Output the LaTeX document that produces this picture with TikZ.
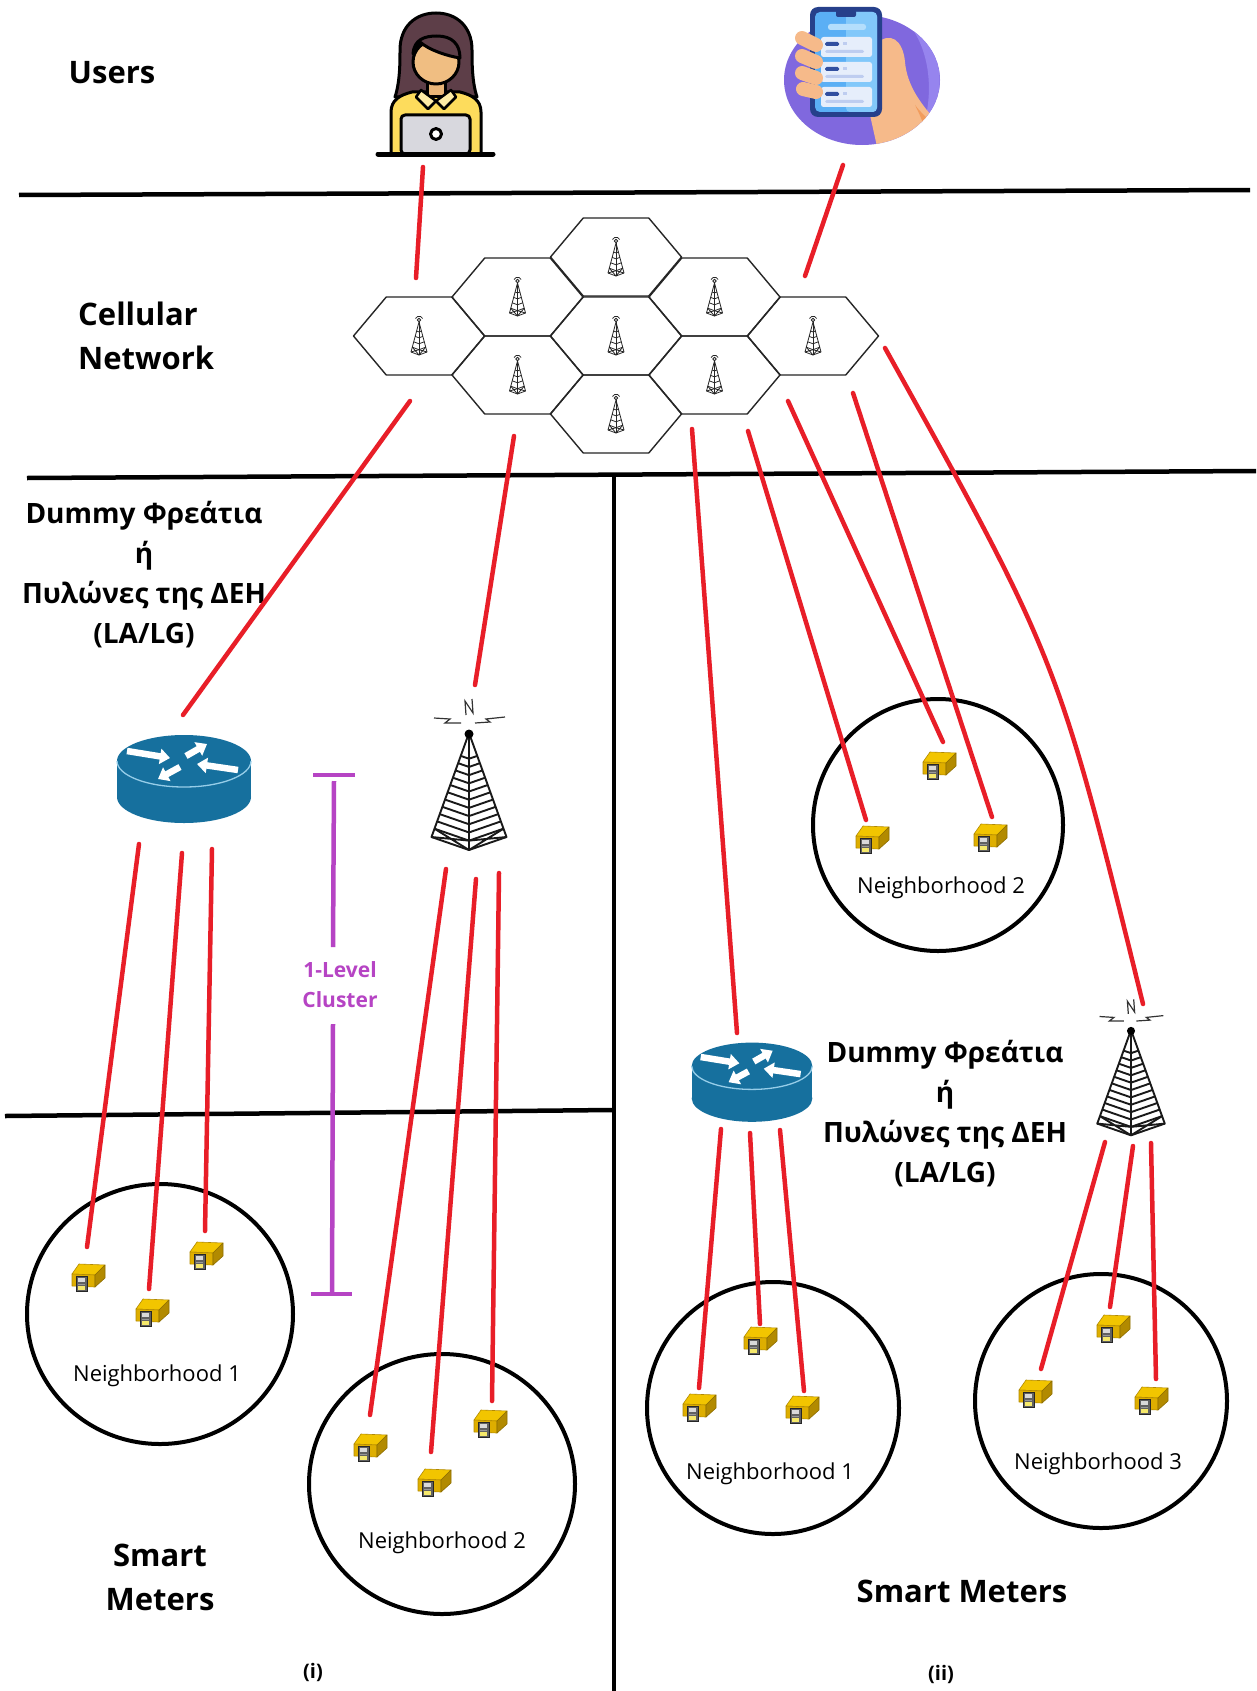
\documentclass[tikz,border=0pt]{standalone}
\usepackage{fontspec}
\setmainfont{Open Sans}
\usetikzlibrary{arrows.meta}

\definecolor{linkred}{RGB}{232,30,40}
\definecolor{clusterpurple}{RGB}{182,68,196}
\definecolor{routerblue}{RGB}{22,112,158}
\definecolor{routerrim}{RGB}{150,205,232}
\definecolor{meterlight}{RGB}{242,197,0}
\definecolor{meterfront}{RGB}{222,174,0}
\definecolor{meterside}{RGB}{178,138,0}
\definecolor{meterlabel}{RGB}{246,233,107}
\definecolor{hair}{RGB}{93,62,72}
\definecolor{skin}{RGB}{240,190,130}
\definecolor{shirt}{RGB}{253,220,92}
\definecolor{laptop}{RGB}{216,216,222}
\definecolor{discpurple}{RGB}{128,104,222}
\definecolor{disclight}{RGB}{150,132,238}
\definecolor{handskin}{RGB}{246,186,138}
\definecolor{handshade}{RGB}{242,156,92}
\definecolor{phonenavy}{RGB}{38,64,139}
\definecolor{screenblue}{RGB}{90,175,245}
\definecolor{screenlight}{RGB}{130,200,250}
\definecolor{cardwhite}{RGB}{230,238,251}
\definecolor{cardbar}{RGB}{50,80,160}
\definecolor{cardline}{RGB}{190,205,240}

\tikzset{
  link/.style={draw=linkred, line width=4.5, line cap=round},
  divider/.style={draw=black, line width=4.5},
  hood/.style={draw=black, line width=4},
  cluster/.style={draw=clusterpurple, line width=4.5},
  hexline/.style={draw=black!85, line width=1.4, line join=round},
  headtext/.style={font=\bfseries\fontsize{31}{44}\selectfont, inner sep=0},
  greektext/.style={font=\bfseries\fontsize{28}{40}\selectfont, align=center, inner sep=0},
  hoodtext/.style={font=\fontsize{22}{26}\selectfont, inner sep=0},
  parttext/.style={font=\bfseries\fontsize{20}{24}\selectfont, inner sep=0},
  clustertext/.style={font=\bfseries\fontsize{21}{30}\selectfont, text=clusterpurple, align=center, inner sep=0},
  % smart meter: yellow box with a grey meter on its front
  meter/.pic={
    \path[fill=meterlight, draw=meterside, line width=0.6, line join=round]
      (-16,-3) -- (-9,-13) -- (17,-12) -- (7,-2) -- cycle;
    \path[fill=meterfront, draw=meterside, line width=0.6, line join=round]
      (-16,-3) -- (7,-2) -- (7,10) -- (-16,9) -- cycle;
    \path[fill=meterside, draw=meterside!80!black, line width=0.6, line join=round]
      (7,-2) -- (17,-12) -- (17,1) -- (7,10) -- cycle;
    \path[fill=black!62, draw=black!85, line width=0.7] (-12,-1) rectangle (-1,14);
    \path[fill=black!15] (-10,1) rectangle (-3,5);
    \path[fill=black!40] (-10,6.5) rectangle (-3,7.5);
    \path[fill=meterlabel] (-10,9) rectangle (-3,12.5);
  },
  % small lattice mast inside a cell
  celltower/.pic={
    \begin{scope}[draw=black!85, line width=0.8, line join=round]
      \draw (-8,16) -- (0,-14) -- (8,16) -- (0,19) -- cycle;
      \draw (0,-14) -- (0,19);
      \foreach \t in {0.3,0.48,0.66,0.84} {
        \draw ({-8*\t},{-14+30*\t}) -- (0,{-14+33*\t}) -- ({8*\t},{-14+30*\t});
      }
      \draw (-6.72,11.2) -- (0,19) (0,13.72) -- (-8,16);
      \draw (6.72,11.2) -- (0,19) (0,13.72) -- (8,16);
      \draw (0,-16) circle (1.8);
      \draw (-3.5,-17.5) arc[start angle=205, end angle=335, radius=3.9];
    \end{scope}
  },
  % one hexagonal cell with its mast
  cell/.pic={
    \draw[hexline] (-65.5,0) -- (-32.75,-39) -- (32.75,-39) -- (65.5,0)
      -- (32.75,39) -- (-32.75,39) -- cycle;
    \pic at (0,0) {celltower};
  },
  % large lattice tower, origin at its apex
  bigtower/.pic={
    \begin{scope}[draw=black!90, line width=1.9, line join=round]
      \draw (-37.5,104) -- (0,0) -- (37.5,104) -- (0,117) -- cycle;
      \draw (0,0) -- (0,117);
      \foreach \t in {0.22,0.29,...,0.93} {
        \draw ({-37.5*\t},{104*\t}) -- (0,{117*\t}) -- ({37.5*\t},{104*\t});
      }
      \draw (-34.5,95.7) -- (0,117) (0,107.6) -- (-37.5,104);
      \draw (34.5,95.7) -- (0,117) (0,107.6) -- (37.5,104);
    \end{scope}
    \fill (0,1) circle (4.5);
    \begin{scope}[draw=black!80, line width=1.2, line join=miter]
      \draw (-3,-18) -- (-4,-32) -- (4,-20) -- (3,-34);
      \draw (-35,-15) -- (-19,-14) -- (-24,-10) -- (-8,-10);
      \draw (6,-10) -- (21,-11) -- (17,-14) -- (36,-16);
    \end{scope}
  },
  % router cylinder, origin at the centre of its top face
  router/.pic={
    \fill[routerblue] (-67,0) rectangle (67,36);
    \fill[routerblue] (0,36) ellipse [x radius=67, y radius=26];
    \fill[routerblue] (0,0) ellipse [x radius=67, y radius=26];
    \draw[routerrim, line width=1.3] (-67,0) arc [start angle=180, end angle=0, x radius=67, y radius=26];
    \begin{scope}[white, line width=6.5, -{Triangle[length=10pt, width=15pt]}]
      \draw (-57,-10) -- (-14,-3);
      \draw (2,-5) -- (23,-17);
      \draw (54,9) -- (13,3);
      \draw (-4,6) -- (-26,18);
    \end{scope}
  },
}

\begin{document}
\begin{tikzpicture}[x=1pt, y=-1pt]
\fill[white] (0,0) rectangle (1256,1691);
\useasboundingbox (0,0) rectangle (1256,1691);

% layer dividers
\draw[divider] (19,195) -- (1250,190);
\draw[divider] (27,478) -- (1256,471);
\draw[divider] (5,1116) -- (612,1110);
\draw[divider] (614,476) -- (614,1691);

% cellular network
\foreach \cx/\cy in {419/336, 517.5/297, 517.5/375, 616/257, 616/336, 616/414,
                     714.5/297, 714.5/375, 813/336}
  \pic at (\cx,\cy) {cell};

% layer labels
\node[headtext] (users) at (112,73) {Users};
\node[headtext, align=left, anchor=west] (cellular) at (78,336) {Cellular\\Network};
\node[greektext] (gatewaysL) at (144,575) {Dummy Φρεάτια\\ή\\Πυλώνες της ΔΕΗ\\(LA/LG)};
\node[greektext] (gatewaysR) at (945,1114) {Dummy Φρεάτια\\ή\\Πυλώνες της ΔΕΗ\\(LA/LG)};
\node[headtext, align=center] (metersL) at (160,1577) {Smart\\Meters};
\node[headtext] (metersR) at (962,1591) {Smart Meters};
\node[parttext] (partI) at (313,1672) {(i)};
\node[parttext] (partII) at (941,1674) {(ii)};

% user at a laptop
\begin{scope}[draw=black, line width=3, line join=round]
  \filldraw[fill=hair] (395,97) .. controls (400,82) and (400,62) .. (400,50)
    .. controls (400,26) and (416,13) .. (436,13) .. controls (456,13) and (472,26) .. (472,50)
    .. controls (472,62) and (472,82) .. (477,97) -- cycle;
  \filldraw[fill=shirt] (391,154) -- (391,112) .. controls (391,100) and (400,95) .. (412,92)
    -- (460,92) .. controls (472,95) and (481,100) .. (481,112) -- (481,154) -- cycle;
  \filldraw[fill=skin!85!brown] (427,76) rectangle (445,97);
  \filldraw[fill=shirt!55!white, line width=2.5] (421,90) -- (436,101) -- (428,109) -- (416,97) -- cycle;
  \filldraw[fill=shirt!55!white, line width=2.5] (451,90) -- (436,101) -- (444,109) -- (456,97) -- cycle;
  \filldraw[fill=skin] (436,62) ellipse [x radius=23, y radius=22];
  \filldraw[fill=hair] (413,54) .. controls (414,39) and (425,36) .. (437,36)
    .. controls (452,36) and (460,44) .. (460,58) .. controls (447,56) and (429,50) .. (420,42)
    .. controls (418,47) and (416,51) .. (413,54) -- cycle;
  \filldraw[fill=laptop, rounded corners=4] (401,115) rectangle (470,154);
  \filldraw[fill=white] (436,134) circle (5.5);
  \draw[line width=5, line cap=round] (378,154) -- (493,154);
\end{scope}

% user with a smartphone
\fill[discpurple] (862,80) ellipse [x radius=78, y radius=65];
\begin{scope}
  \clip (862,80) ellipse [x radius=78, y radius=65];
  \fill[disclight] (905,20) .. controls (925,40) and (935,80) .. (925,120)
    .. controls (945,100) and (950,50) .. (905,20) -- cycle;
  \fill[handskin] (875,45) .. controls (890,30) and (903,40) .. (905,62)
    .. controls (907,85) and (920,105) .. (945,130) -- (945,160) -- (880,160) -- (870,115) -- cycle;
  \fill[handshade] (915,105) .. controls (925,118) and (935,125) .. (945,130) -- (945,160)
    -- (925,160) .. controls (930,140) and (925,125) .. (915,105) -- cycle;
\end{scope}
\fill[phonenavy, rounded corners=8] (810,7) rectangle (882,117);
\fill[screenblue, rounded corners=5] (815,12) rectangle (877,112);
\fill[screenlight, rounded corners=4] (846,12) rectangle (877,112);
\fill[phonenavy, rounded corners=2] (836,10) rectangle (856,17);
\fill[screenlight!60!white, rounded corners=2.5] (828,24) rectangle (866,30);
\foreach \yy in {37,62,87} {
  \fill[cardwhite, rounded corners=2.5] (821,\yy) rectangle (872,\yy+20);
  \fill[cardbar, rounded corners=1.5] (825,\yy+5) rectangle (839,\yy+9);
  \fill[cardline] (843,\yy+5.5) rectangle (847,\yy+8.5);
  \fill[cardline, rounded corners=1.5] (825,\yy+13) rectangle (864,\yy+16);
}
\begin{scope}[handskin, line width=14, line cap=round]
  \draw (802,38) -- (816,45);
  \draw (802,56) -- (816,62);
  \draw (802,73) -- (816,78);
  \draw (803,89) -- (816,92);
\end{scope}

% gateways
\pic at (184,761) {router};
\pic[scale=0.9] at (752,1066) {router};
\pic at (469,733) {bigtower};
\pic[scale=0.9] at (1131,1030) {bigtower};

% one-level cluster marker
\draw[cluster] (313,775) -- (355,775);
\draw[cluster] (334,781) -- (333,947);
\draw[cluster] (333,1024) -- (332,1294);
\draw[cluster] (311,1294) -- (352,1294);
\node[clustertext] (clusterlabel) at (340,985) {1-Level\\Cluster};

% neighbourhoods
\draw[hood] (160,1314) ellipse [x radius=133, y radius=130];
\draw[hood] (442,1484) ellipse [x radius=133, y radius=130];
\draw[hood] (938,825) ellipse [x radius=125, y radius=126];
\draw[hood] (773,1408) ellipse [x radius=126, y radius=126];
\draw[hood] (1101,1401) ellipse [x radius=126, y radius=127];
\node[hoodtext] (hoodLa) at (157,1376) {Neighborhood 1};
\node[hoodtext] (hoodLb) at (442,1543) {Neighborhood 2};
\node[hoodtext] (hoodRb) at (941,888) {Neighborhood 2};
\node[hoodtext] (hoodRa) at (770,1474) {Neighborhood 1};
\node[hoodtext] (hoodRc) at (1098,1464) {Neighborhood 3};

% smart meters
\foreach \mx/\my in {88/1277, 152/1312, 206/1255,
                     370/1447, 434/1482, 490/1423,
                     872/839, 939/765, 990/837,
                     699/1407, 760/1340, 802/1409,
                     1035/1393, 1113/1328, 1151/1400}
  \pic at (\mx,\my) {meter};

% link end points
\coordinate (userA) at (423,167);   \coordinate (cellA) at (416,278);
\coordinate (userB) at (843,165);   \coordinate (cellB) at (805,276);
\coordinate (cellC) at (410,401);   \coordinate (routerL) at (183,715);
\coordinate (cellD) at (514,436);   \coordinate (towerL) at (475,685);
\coordinate (cellE) at (692,429);   \coordinate (routerR) at (737,1033);
\coordinate (cellF) at (748,431);   \coordinate (mRb1) at (866,820);
\coordinate (cellG) at (788,401);   \coordinate (mRb2) at (943,742);
\coordinate (cellH) at (853,393);   \coordinate (mRb3) at (992,817);
\coordinate (cellI) at (885,348);   \coordinate (towerR) at (1143,1004);
\coordinate (rLa) at (139,844);     \coordinate (mLa1) at (87,1247);
\coordinate (rLb) at (182,853);     \coordinate (mLa2) at (149,1289);
\coordinate (rLc) at (212,849);     \coordinate (mLa3) at (205,1231);
\coordinate (tLa) at (446,869);     \coordinate (mLb1) at (370,1415);
\coordinate (tLb) at (476,879);     \coordinate (mLb2) at (431,1452);
\coordinate (tLc) at (499,873);     \coordinate (mLb3) at (492,1401);
\coordinate (rRa) at (721,1129);    \coordinate (mRa1) at (699,1388);
\coordinate (rRb) at (750,1133);    \coordinate (mRa2) at (760,1324);
\coordinate (rRc) at (780,1130);    \coordinate (mRa3) at (804,1391);
\coordinate (tRa) at (1105,1142);   \coordinate (mRc1) at (1041,1369);
\coordinate (tRb) at (1133,1146);   \coordinate (mRc2) at (1110,1307);
\coordinate (tRc) at (1151,1143);   \coordinate (mRc3) at (1156,1379);

% links
\draw[link] (userA) -- (cellA);
\draw[link] (userB) -- (cellB);
\draw[link] (cellC) -- (routerL);
\draw[link] (cellD) -- (towerL);
\draw[link] (cellE) -- (routerR);
\draw[link] (cellF) -- (mRb1);
\draw[link] (cellG) -- (mRb2);
\draw[link] (cellH) -- (mRb3);
\draw[link] (cellI) .. controls (1058,659) .. (towerR);
\draw[link] (rLa) -- (mLa1);
\draw[link] (rLb) -- (mLa2);
\draw[link] (rLc) -- (mLa3);
\draw[link] (tLa) -- (mLb1);
\draw[link] (tLb) -- (mLb2);
\draw[link] (tLc) -- (mLb3);
\draw[link] (rRa) -- (mRa1);
\draw[link] (rRb) -- (mRa2);
\draw[link] (rRc) -- (mRa3);
\draw[link] (tRa) -- (mRc1);
\draw[link] (tRb) -- (mRc2);
\draw[link] (tRc) -- (mRc3);
\end{tikzpicture}
\end{document}
